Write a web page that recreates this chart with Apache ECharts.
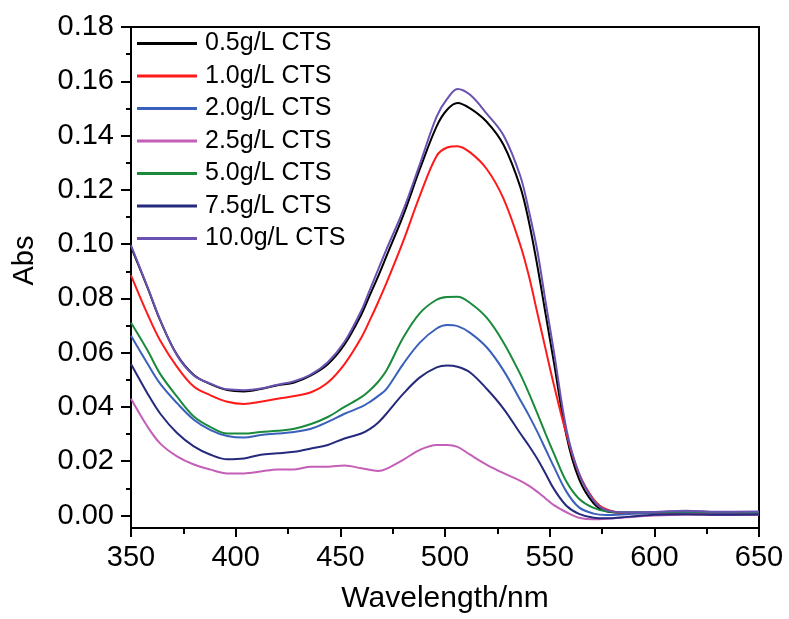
<!DOCTYPE html>
<html>
<head>
<meta charset="utf-8">
<script src="https://cdn.jsdelivr.net/npm/echarts@6/dist/echarts.min.js"></script>
<style>
html,body{margin:0;padding:0;background:#fff;}
#chart{width:789px;height:619px;}
</style>
</head>
<body>
<div id="chart"></div>
<script>
const wavelengths = [350,358,364,372,380,388,396,404,412,420,428,436,444,452,460,464,468,472,480,488,496,501,506,512,520,528,536,540,544,548,552,558,564,571,577,587,600,615,630,650];

const names = ['0.5g/L CTS','1.0g/L CTS','2.0g/L CTS','2.5g/L CTS','5.0g/L CTS','7.5g/L CTS','10.0g/L CTS'];
const colors = ['#000000','#ff1a1a','#3a60bb','#c45fb8','#1a8a3c','#252a7c','#6a52b2'];

const abs05 = [0.0990,0.0838,0.0718,0.0592,0.0518,0.0484,0.0462,0.0457,0.0466,0.0480,0.0490,0.0516,0.0557,0.0630,0.0740,0.0810,0.0880,0.0955,0.1105,0.1277,0.1434,0.1495,0.1520,0.1500,0.1450,0.1365,0.1210,0.1085,0.0925,0.0745,0.0565,0.0295,0.0135,0.0045,0.0016,0.0010,0.0012,0.0015,0.0012,0.0013];
const abs10 = [0.0885,0.0740,0.0644,0.0548,0.0475,0.0443,0.0419,0.0411,0.0419,0.0430,0.0440,0.0454,0.0490,0.0558,0.0655,0.0718,0.0785,0.0856,0.1010,0.1179,0.1325,0.1356,0.1361,0.1338,0.1276,0.1167,0.0996,0.0885,0.0750,0.0615,0.0482,0.0300,0.0155,0.0060,0.0023,0.0008,0.0008,0.0010,0.0008,0.0010];
const abs20 = [0.0662,0.0558,0.0485,0.0414,0.0353,0.0315,0.0293,0.0287,0.0297,0.0302,0.0308,0.0320,0.0345,0.0375,0.0400,0.0418,0.0440,0.0466,0.0558,0.0637,0.0689,0.0702,0.0698,0.0673,0.0619,0.0534,0.0425,0.0370,0.0310,0.0245,0.0180,0.0088,0.0030,0.0007,0.0002,0.0005,0.0010,0.0012,0.0010,0.0010];
const abs25 = [0.0430,0.0326,0.0265,0.0218,0.0188,0.0169,0.0155,0.0155,0.0162,0.0170,0.0170,0.0180,0.0180,0.0184,0.0174,0.0169,0.0164,0.0172,0.0205,0.0242,0.0260,0.0260,0.0253,0.0224,0.0187,0.0156,0.0128,0.0110,0.0088,0.0063,0.0038,0.0012,-0.0008,-0.0014,-0.0012,-0.0006,0.0000,0.0003,0.0002,0.0002];
const abs50 = [0.0710,0.0607,0.0521,0.0438,0.0365,0.0326,0.0302,0.0302,0.0308,0.0312,0.0320,0.0337,0.0363,0.0400,0.0436,0.0461,0.0492,0.0534,0.0655,0.0746,0.0795,0.0805,0.0806,0.0783,0.0728,0.0637,0.0520,0.0452,0.0378,0.0302,0.0229,0.0125,0.0062,0.0028,0.0016,0.0012,0.0012,0.0015,0.0013,0.0012];
const abs75 = [0.0558,0.0448,0.0375,0.0304,0.0255,0.0224,0.0207,0.0210,0.0224,0.0229,0.0235,0.0247,0.0260,0.0284,0.0302,0.0318,0.0342,0.0375,0.0448,0.0509,0.0546,0.0553,0.0548,0.0527,0.0466,0.0393,0.0302,0.0258,0.0210,0.0155,0.0098,0.0036,0.0006,-0.0008,-0.0010,-0.0005,0.0003,0.0005,0.0003,0.0004];
const abs100 = [0.0995,0.0840,0.0720,0.0590,0.0516,0.0486,0.0465,0.0462,0.0468,0.0482,0.0495,0.0520,0.0565,0.0640,0.0755,0.0830,0.0905,0.0980,0.1124,0.1295,0.1470,0.1535,0.1572,0.1550,0.1480,0.1400,0.1250,0.1125,0.0980,0.0790,0.0605,0.0318,0.0155,0.0055,0.0020,0.0012,0.0013,0.0018,0.0014,0.0015];

const xTicks = [350,400,450,500,550,600,650];
const yTicks = [0,0.02,0.04,0.06,0.08,0.10,0.12,0.14,0.16,0.18];
const yMinorTicks = [0.01,0.03,0.05,0.07,0.09,0.11,0.13,0.15,0.17];

const seriesValues = [abs05,abs10,abs20,abs25,abs50,abs75,abs100];
const FONT = "'Liberation Sans', Arial, sans-serif";
const YMIN = -0.0046, YMAX = 0.18;

const chart = echarts.init(document.getElementById('chart'), null, {renderer:'canvas'});
chart.setOption({
  backgroundColor:'#ffffff',
  animation:false,
  grid:{left:131, right:30, top:27, bottom:87, containLabel:false},
  legend:{
    orient:'vertical', left:137, top:31, padding:0,
    itemWidth:60, itemHeight:3, itemGap:7.5, icon:'rect',
    textStyle:{fontFamily:FONT, fontSize:25, color:'#000', lineHeight:25, padding:[0,0,0,3]},
    data:names
  },
  xAxis:[{
    type:'value', min:350, max:650, interval:50, position:'bottom',
    name:'Wavelength/nm', nameLocation:'middle', nameGap:56,
    nameTextStyle:{fontFamily:FONT, fontSize:30, color:'#000'},
    axisLine:{show:true, onZero:false, lineStyle:{color:'#000', width:2}},
    axisTick:{show:true, length:9, lineStyle:{color:'#000', width:2}, customValues:xTicks},
    minorTick:{show:true, splitNumber:2, length:6, lineStyle:{color:'#000', width:2}},
    axisLabel:{fontFamily:FONT, fontSize:29, color:'#000', margin:15, customValues:xTicks},
    splitLine:{show:false}
  },{
    type:'value', min:350, max:650, position:'top',
    axisLine:{show:true, onZero:false, lineStyle:{color:'#000', width:2}},
    axisTick:{show:false}, axisLabel:{show:false}, splitLine:{show:false}
  }],
  yAxis:[{
    type:'value', min:YMIN, max:YMAX, position:'left',
    name:'Abs', nameLocation:'middle', nameGap:92,
    nameTextStyle:{fontFamily:FONT, fontSize:29, color:'#000', padding:[0,0,0,34]},
    axisLine:{show:true, onZero:false, lineStyle:{color:'#000', width:2}},
    axisTick:{show:true, length:10, lineStyle:{color:'#000', width:2}, customValues:yTicks},
    axisLabel:{fontFamily:FONT, fontSize:29, color:'#000', margin:17, customValues:yTicks,
      formatter:function(v){return v.toFixed(2);}},
    splitLine:{show:false}
  },{
    type:'value', min:YMIN, max:YMAX, position:'left',
    axisLine:{show:false},
    axisTick:{show:true, length:5, lineStyle:{color:'#000', width:2}, customValues:yMinorTicks},
    axisLabel:{show:false}, splitLine:{show:false}
  },{
    type:'value', min:YMIN, max:YMAX, position:'right',
    axisLine:{show:true, onZero:false, lineStyle:{color:'#000', width:2}},
    axisTick:{show:false}, axisLabel:{show:false}, splitLine:{show:false}
  }],
  series: names.map(function(n,i){
    return {
      name:n, type:'line', xAxisIndex:0, yAxisIndex:0,
      showSymbol:false, symbol:'none', smooth:0.35,
      lineStyle:{color:colors[i], width:2},
      itemStyle:{color:colors[i]},
      data: wavelengths.map(function(w,j){return [w, seriesValues[i][j]];})
    };
  })
});
</script>
</body>
</html>
